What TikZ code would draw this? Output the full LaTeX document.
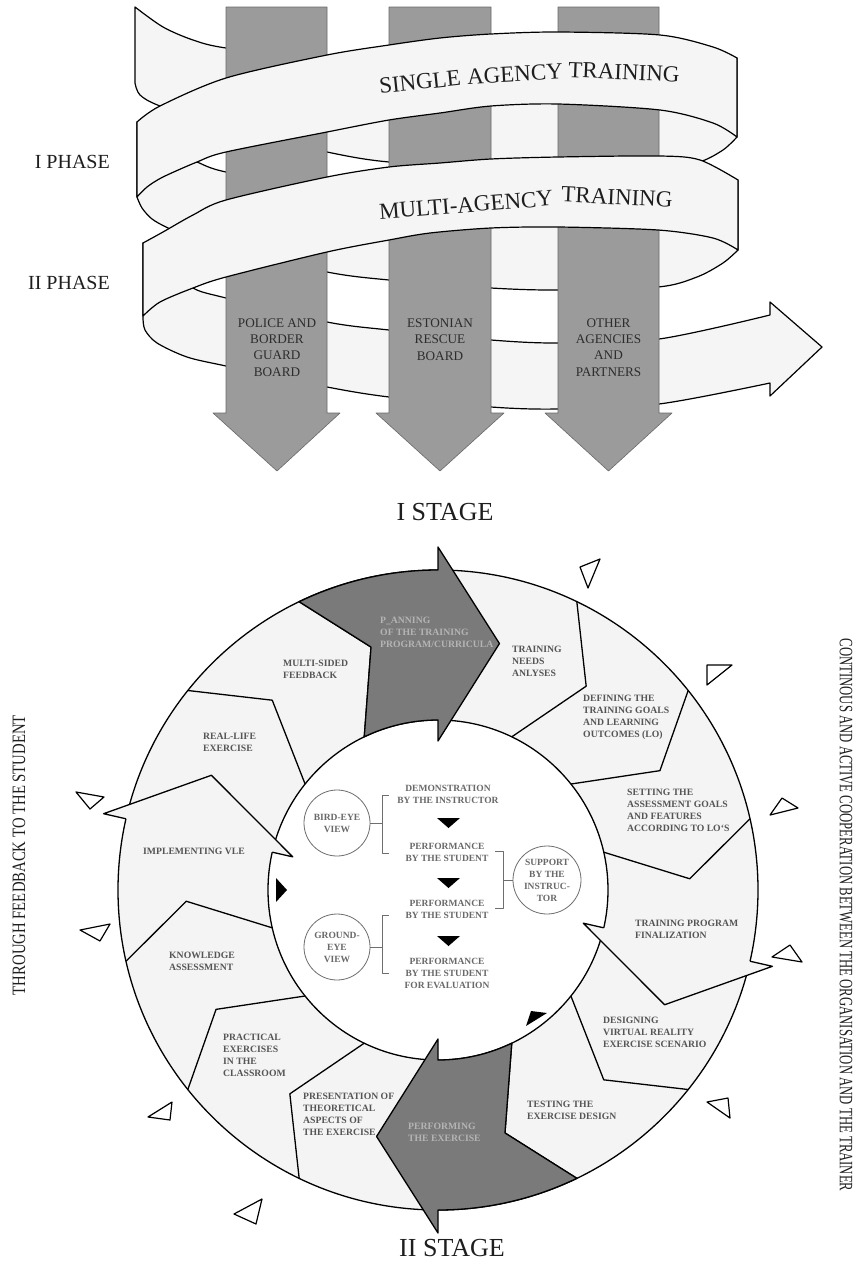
\documentclass[tikz,border=0pt]{standalone}
\usepackage{fontspec}
\setmainfont{Liberation Serif}
\usepackage{graphicx}
\definecolor{ribbon}{RGB}{245,245,245}
\definecolor{shaftc}{RGB}{155,155,155}
\definecolor{shaftedge}{RGB}{105,105,105}
\definecolor{seg}{RGB}{244,244,244}
\definecolor{darkseg}{RGB}{122,122,122}
\definecolor{segtext}{RGB}{85,85,85}
\definecolor{darktext}{RGB}{180,180,180}
\definecolor{innertext}{RGB}{105,105,105}
\definecolor{circgray}{RGB}{110,110,110}
\definecolor{shafttext}{RGB}{45,45,45}
\definecolor{txt}{RGB}{30,30,30}
\newcommand{\bandfont}{\fontsize{23}{23}\selectfont}
\newcommand{\segfont}{\fontsize{9.7}{12}\selectfont\bfseries}
\newcommand{\innerfont}{\fontsize{9.5}{12}\selectfont\bfseries}
\newcommand{\shaftfont}{\fontsize{13.2}{16.3}\selectfont}
\newcommand{\phasefont}{\fontsize{20}{24}\selectfont}
\newcommand{\stagefont}{\fontsize{26}{30}\selectfont}
\begin{document}
\begin{tikzpicture}[x=1pt,y=-1pt,line join=round,
  rib/.style={fill=ribbon,draw=black,line width=1.2pt},
  shaftst/.style={fill=shaftc,draw=shaftedge,line width=0.6pt},
  ringline/.style={draw=black,line width=1.3pt},
  bandword/.style={font=\bandfont,text=txt,inner sep=0pt},
  seglabel/.style={font=\segfont,text=segtext,align=left,inner sep=0pt,anchor=north west},
  darklabel/.style={seglabel,text=darktext},
  innertxt/.style={font=\innerfont,text=innertext,align=center,inner sep=0pt},
  smallcirc/.style={circle,draw=circgray,line width=0.8pt,inner sep=0pt,font=\innerfont,text=innertext,align=center},
  brk/.style={draw=circgray,line width=0.8pt},
  otri/.style={fill=white,draw=black,line width=1.2pt},
  shafttxt/.style={font=\shaftfont,text=shafttext,align=center,inner sep=0pt},
  sidelabel/.style={font=\phasefont,text=txt,inner sep=0pt}]
\useasboundingbox (0,0) rectangle (862,1280);
\fill[white] (0,0) rectangle (862,1280);

% ---------- ribbon: back pieces ----------
\path[rib] plot[smooth] coordinates {(135,7) (163,27) (193,40) (226,48) (327,60) (440,64) (558,62) (660,60) (737,58)}
  -- plot[smooth] coordinates {(737,137) (723,150) (699,162) (660,166) (558,168) (491,167) (389,162) (327,152) (226,128) (160,106) (140,95) (135,83)} -- cycle;
\path[rib] plot[smooth] coordinates {(137,122) (170,150) (197,162) (226,172) (327,190) (440,198) (558,198) (660,192) (738,180)}
  -- plot[smooth] coordinates {(738,250) (723,263) (697,277) (658,287) (558,290) (491,288) (389,280) (327,272) (226,248) (190,237) (168,228) (152,219) (142,208) (137,197)} -- cycle;
\path[rib] plot[smooth] coordinates {(143,243) (170,266) (193,288) (226,298) (327,322) (389,330) (491,340) (558,343) (659,339) (770,315)}
  -- (770,302) -- (822,347) -- (770,396)
  -- plot[smooth] coordinates {(770,383) (659,404) (558,409) (491,407) (389,397) (327,387) (226,366) (187,357) (157,343) (145,330) (143,318)} -- cycle;

% ---------- shafts ----------
\path[shaftst] (226,7) -- (327,7) -- (327,413) -- (340,413) -- (277,471) -- (213,413) -- (226,413) -- cycle;
\path[shaftst] (389,7) -- (491,7) -- (491,413) -- (504,413) -- (440,471) -- (376,413) -- (389,413) -- cycle;
\path[shaftst] (558,7) -- (659,7) -- (659,413) -- (672,413) -- (608.5,471) -- (545,413) -- (558,413) -- cycle;
\node[shafttxt] (police) at (277,347.5) {POLICE AND\\BORDER\\GUARD\\BOARD};
\node[shafttxt] (rescue) at (440,339.5) {ESTONIAN\\RESCUE\\BOARD};
\node[shafttxt] (other) at (608.5,347.5) {OTHER\\AGENCIES\\AND\\PARTNERS};

% ---------- ribbon: front bands ----------
\path[rib] plot[smooth] coordinates {(137,122) (160,106) (226,78) (327,55) (389,45) (440,38) (491,34) (558,32) (660,35) (713,47) (737,58)}
  -- plot[smooth] coordinates {(737,137) (713,123) (660,110) (558,104) (491,106) (440,113) (389,120) (327,132) (226,152) (197,162) (163,177) (147,187) (137,197)} -- cycle;
\path[rib] plot[smooth] coordinates {(143,243) (163,232) (193,215) (226,200) (327,177) (389,167) (440,163) (491,159) (558,157) (660,156) (700,160) (738,180)}
  -- plot[smooth] coordinates {(738,250) (713,238) (658,230) (558,227) (491,228) (430,233) (389,240) (327,252) (226,277) (193,288) (160,302) (143,316)} -- cycle;
\node[bandword,rotate=6] (w1) at (420,82) {SINGLE};
\node[bandword,rotate=3] (w2) at (515,74) {AGENCY};
\node[bandword,rotate=-2.4] (w3) at (624,72) {TRAINING};
\node[bandword,rotate=4.5] (w4) at (466,205) {MULTI-AGENCY};
\node[bandword,rotate=-2.6] (w5) at (617,197) {TRAINING};

\node[sidelabel,anchor=east] (ph1) at (110,162) {I PHASE};
\node[sidelabel,anchor=east] (ph2) at (110,283) {II PHASE};
\node[font=\stagefont,text=txt,inner sep=0pt] (st1) at (445,512) {I STAGE};
\node[font=\stagefont,text=txt,inner sep=0pt] (st2) at (452,1248) {II STAGE};

% ---------- ring ----------
\begin{scope}[shift={(438,890)}]
  \fill[seg] (0,0) circle[radius=320];
  \draw[ringline] (0,0) circle[radius=320];
  \fill[white] (0,0) circle[radius=170];
  \draw[ringline] (0,0) circle[radius=170];
  \foreach \k in {1,2,3,5,6,8,9,10,12,13}{
    \pgfmathsetmacro\ang{-90+\k*360/14}
    \draw[ringline] (\ang:320) -- ({\ang+10.3}:252) -- (\ang:170);
  }
  \foreach \k in {4,11}{
    \pgfmathsetmacro\ang{-90+\k*360/14}
    \fill[seg] (\ang:149) -- ({\ang+14}:254) -- (\ang:343) -- cycle;
    \draw[ringline] (\ang:170) -- (\ang:149) -- ({\ang+14}:254) -- (\ang:343) -- (\ang:320);
  }
  \foreach \k in {0,7}{
    \pgfmathsetmacro\ang{-90+\k*360/14}
    \pgfmathsetmacro\bng{\ang-360/14}
    \filldraw[fill=darkseg,ringline] (\bng:320) arc[start angle=\bng,end angle=\ang,radius=320]
      -- (\ang:343) -- ({\ang+14}:254) -- (\ang:149) -- (\ang:170)
      arc[start angle=\ang,end angle=\bng,radius=170] -- ({\bng+10.3}:252) -- cycle;
  }
\end{scope}

% segment labels
\node[darklabel] (plan) at (380,616.5) {P\_ANNING\\OF THE TRAINING\\PROGRAM/CURRICULA};
\node[seglabel] (tna) at (512,645.5) {TRAINING\\NEEDS\\ANLYSES};
\node[seglabel] (msf) at (283,659.5) {MULTI-SIDED\\FEEDBACK};
\node[seglabel] (rle) at (203,732.5) {REAL-LIFE\\EXERCISE};
\node[seglabel] (def) at (583,694.5) {DEFINING THE\\TRAINING GOALS\\AND LEARNING\\OUTCOMES (LO)};
\node[seglabel] (set) at (627,788.5) {SETTING THE\\ASSESSMENT GOALS\\AND FEATURES\\ACCORDING TO LO`S};
\node[seglabel] (tpf) at (635,919.5) {TRAINING PROGRAM\\FINALIZATION};
\node[seglabel] (dvr) at (603,1016.5) {DESIGNING\\VIRTUAL REALITY\\EXERCISE SCENARIO};
\node[seglabel] (ted) at (527,1100.5) {TESTING THE\\EXERCISE DESIGN};
\node[seglabel] (vle) at (143,847.5) {IMPLEMENTING VLE};
\node[seglabel] (ka) at (169,951.5) {KNOWLEDGE\\ASSESSMENT};
\node[seglabel] (pec) at (223,1033.5) {PRACTICAL\\EXERCISES\\IN THE\\CLASSROOM};
\node[seglabel] (pta) at (303,1092.5) {PRESENTATION OF\\THEORETICAL\\ASPECTS OF\\THE EXERCISE};
\node[darklabel] (pex) at (408,1122.5) {PERFORMING\\THE EXERCISE};

% inner circle content
\node[innertxt] (demo) at (448,794) {DEMONSTRATION\\BY THE INSTRUCTOR};
\node[innertxt] (perf1) at (447,852) {PERFORMANCE\\BY THE STUDENT};
\node[innertxt] (perf2) at (447,909) {PERFORMANCE\\BY THE STUDENT};
\node[innertxt] (perf3) at (447,973) {PERFORMANCE\\BY THE STUDENT\\FOR EVALUATION};
\fill (437,818) -- (460,818) -- (448.5,828) -- cycle;
\fill (437,878) -- (460,878) -- (448.5,888) -- cycle;
\fill (437,936) -- (460,936) -- (448.5,946) -- cycle;
\node[smallcirc,minimum size=66pt] (bird) at (337,823) {BIRD-EYE\\VIEW};
\node[smallcirc,minimum size=66pt] (ground) at (337,947) {GROUND-\\EYE\\VIEW};
\node[smallcirc,minimum size=68pt] (support) at (547,880) {SUPPORT\\BY THE\\INSTRUC-\\TOR};
\coordinate (bk1) at (382,823);
\coordinate (bk2) at (382,947);
\coordinate (bk3) at (503,880);
\draw[brk] (bird.east) -- (bk1);
\draw[brk] (389,795) -- (382,795) -- (382,853) -- (389,853);
\draw[brk] (ground.east) -- (bk2);
\draw[brk] (389,915) -- (382,915) -- (382,973) -- (389,973);
\draw[brk] (support.west) -- (bk3);
\draw[brk] (495,851) -- (503,851) -- (503,908) -- (495,908);
\fill (276,878) -- (287,890) -- (276,902) -- cycle;
\fill (526,1026) -- (547,1013) -- (531,1011) -- cycle;

% outline triangles around the ring
\draw[otri] (580,567) -- (600,559) -- (588,588) -- cycle;
\draw[otri] (707,665) -- (732,665) -- (707,685) -- cycle;
\draw[otri] (770,815) -- (782,798) -- (798,808) -- cycle;
\draw[otri] (772,957) -- (790,945) -- (802,962) -- cycle;
\draw[otri] (707,1102) -- (728,1098) -- (730,1118) -- cycle;
\draw[otri] (148,1117) -- (172,1102) -- (170,1120) -- cycle;
\draw[otri] (76,792) -- (104,797) -- (90,809) -- cycle;
\draw[otri] (80,930) -- (110,924) -- (100,941) -- cycle;
\draw[otri] (234,1214) -- (262,1199) -- (256,1224) -- cycle;

% side labels
\node[rotate=90,text=txt,inner sep=0pt] (left) at (19,855) {\resizebox{280pt}{12.5pt}{THROUGH FEEDBACK TO THE STUDENT}};
\node[rotate=-90,text=txt,inner sep=0pt] (right) at (846,915) {\resizebox{553pt}{12.5pt}{CONTINOUS AND ACTIVE COOPERATION BETWEEN THE ORGANISATION AND THE TRAINER}};
\end{tikzpicture}
\end{document}
